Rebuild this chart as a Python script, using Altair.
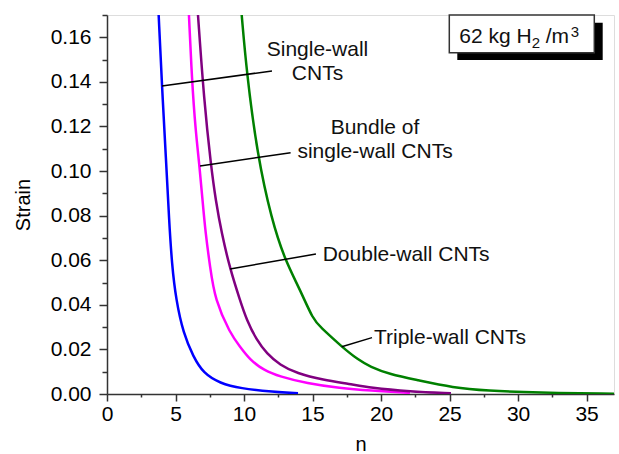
import altair as alt
import pandas as pd

# ---- data ----
sw_n = [3.77, 4.01, 4.31, 4.53, 4.74, 5.04, 5.57, 6.30, 7.03, 8.25, 9.71, 12.14, 13.94]
sw_s = [0.170, 0.1382, 0.1050, 0.0780, 0.0579, 0.0422, 0.0272, 0.0167, 0.0093, 0.0048, 0.0025, 0.0010, 0.0003]

bu_n = [5.98, 6.20, 6.46, 6.75, 6.97, 7.19, 7.52, 7.88, 8.98, 9.71, 10.44, 11.41, 12.62, 14.57, 17.00, 19.19, 22.11]
bu_s = [0.170, 0.1408, 0.1184, 0.1023, 0.0870, 0.0722, 0.0571, 0.0422, 0.0272, 0.0212, 0.0153, 0.0108, 0.0078, 0.0048, 0.0026, 0.0015, 0.0005]

dw_n = [6.64, 7.08, 7.59, 7.93, 8.37, 8.98, 9.70, 10.19, 10.92, 11.65, 12.62, 13.84, 15.78, 17.73, 19.19, 22.11, 25.10]
dw_s = [0.170, 0.1319, 0.1023, 0.0870, 0.0720, 0.0561, 0.0422, 0.0332, 0.0242, 0.0182, 0.0130, 0.0093, 0.0063, 0.0045, 0.0028, 0.0011, 0.0003]

tw_n = [9.83, 10.19, 10.97, 12.02, 12.99, 14.08, 15.06, 15.55, 17.13, 18.34, 19.19, 20.65, 22.60, 25.27, 27.71, 31.36, 37.0]
tw_s = [0.170, 0.1444, 0.1072, 0.0780, 0.0601, 0.0469, 0.0332, 0.0302, 0.0212, 0.0153, 0.0123, 0.0088, 0.0063, 0.0028, 0.0015, 0.0006, 0.0001]

series_names = ["Single-wall", "Bundle", "Double-wall", "Triple-wall"]
series_colors = ["#0000ff", "#ff00ff", "#800080", "#008000"]

# annotation leader lines (start on curve -> end near label)
lead_n = [4.01, 6.79, 8.98, 17.13]
lead_s = [0.1382, 0.1023, 0.0561, 0.0212]
lead_n2 = [12.04, 13.40, 15.25, 19.34]
lead_s2 = [0.1449, 0.1082, 0.0628, 0.0253]

# annotation labels
center_labels = ["Single-wall\nCNTs", "Bundle of\nsingle-wall CNTs"]
center_n = [15.36, 19.56]
center_s = [0.1516, 0.1166]
left_labels = ["Double-wall CNTs", "Triple-wall CNTs"]
left_n = [15.74, 19.48]
left_s = [0.0597, 0.0224]

x_ticks = [0, 5, 10, 15, 20, 25, 30, 35]
x_minor = [2.5, 7.5, 12.5, 17.5, 22.5, 27.5, 32.5]
y_ticks = [0.0, 0.02, 0.04, 0.06, 0.08, 0.10, 0.12, 0.14, 0.16]
y_minor = [0.01, 0.03, 0.05, 0.07, 0.09, 0.11, 0.13, 0.15, 0.17]

# ---- build tables ----
rows = []
for name, ns, ss in zip(series_names, [sw_n, bu_n, dw_n, tw_n], [sw_s, bu_s, dw_s, tw_s]):
    for a, b in zip(ns, ss):
        rows.append({"n": a, "s": b, "series": name})
lines_df = pd.DataFrame(rows)
lead_df = pd.DataFrame({"n": lead_n, "s": lead_s, "n2": lead_n2, "s2": lead_s2})
cl_df = pd.DataFrame({"n": center_n, "s": center_s, "label": center_labels})
ll_df = pd.DataFrame({"n": left_n, "s": left_s, "label": left_labels})
one = pd.DataFrame({"k": [0]})

FONT = "Liberation Sans"
AX = "#333333"
xs = alt.Scale(domain=[0, 37], nice=False, zero=False)
ys = alt.Scale(domain=[0, 0.17], nice=False, zero=False)

x_axis = alt.Axis(values=x_ticks, title="n", orient="bottom", grid=False, tickSize=7, tickWidth=1.5,
                  domainWidth=1.5, domainColor=AX, tickColor=AX, labelPadding=2, labelFontSize=21,
                  labelColor="black", labelFont=FONT, labelFlush=False, labelOverlap=False,
                  titleFontSize=20, titleFont=FONT, titleFontWeight="normal", titleColor="black",
                  titlePadding=10)
y_axis = alt.Axis(values=y_ticks, format=".2f", title="Strain", orient="left", grid=False, tickSize=8,
                  tickWidth=1.5, domainWidth=1.5, domainColor=AX, tickColor=AX, labelPadding=8,
                  labelFontSize=21, labelColor="black", labelFont=FONT, labelOverlap=False,
                  titleFontSize=20, titleFont=FONT, titleFontWeight="normal", titleColor="black",
                  titlePadding=17)
x_axis_minor = alt.Axis(values=x_minor, orient="bottom", grid=False, labels=False, domain=False,
                        tickSize=3, tickWidth=1.5, tickColor=AX, title=None)
y_axis_minor = alt.Axis(values=y_minor, orient="left", grid=False, labels=False, domain=False,
                        tickSize=5, tickWidth=1.5, tickColor=AX, title=None)

lines = alt.Chart(lines_df).mark_line(strokeWidth=2.5, interpolate="basis", clip=True).encode(
    x=alt.X("n:Q", scale=xs, axis=x_axis),
    y=alt.Y("s:Q", scale=ys, axis=y_axis),
    color=alt.Color("series:N", scale=alt.Scale(domain=series_names, range=series_colors), legend=None),
)

minor = alt.Chart(lines_df).mark_point(opacity=0).encode(
    x=alt.X("n:Q", scale=xs, axis=x_axis_minor),
    y=alt.Y("s:Q", scale=ys, axis=y_axis_minor),
)

leaders = alt.Chart(lead_df).mark_rule(color="black", strokeWidth=1.5).encode(
    x=alt.X("n:Q", scale=xs, axis=None), y=alt.Y("s:Q", scale=ys, axis=None),
    x2="n2:Q", y2="s2:Q",
)

ctext = alt.Chart(cl_df).mark_text(align="center", baseline="alphabetic", fontSize=21, font=FONT,
                                    lineBreak="\n", lineHeight=23.5, color="#111111").encode(
    x=alt.X("n:Q", scale=xs, axis=None), y=alt.Y("s:Q", scale=ys, axis=None), text="label:N")

ltext = alt.Chart(ll_df).mark_text(align="left", baseline="alphabetic", fontSize=21, font=FONT,
                                    color="#111111").encode(
    x=alt.X("n:Q", scale=xs, axis=None), y=alt.Y("s:Q", scale=ys, axis=None), text="label:N")

# box with drop shadow (decoration, pixel placed)
shadow = alt.Chart(one).mark_rect(color="black").encode(
    x=alt.value(350.3), x2=alt.value(495.7), y=alt.value(7.7), y2=alt.value(45))
box = alt.Chart(one).mark_rect(fill="white", stroke="#333333", strokeWidth=1.5).encode(
    x=alt.value(342.3), x2=alt.value(487.3), y=alt.value(0), y2=alt.value(37.7))
t1 = alt.Chart(one).mark_text(text="62 kg H", align="left", baseline="alphabetic", fontSize=21,
                              font=FONT, color="#111111").encode(x=alt.value(352.3), y=alt.value(28.3))
t2 = alt.Chart(one).mark_text(text="2", align="left", baseline="alphabetic", fontSize=15,
                              font=FONT, color="#111111").encode(x=alt.value(424.7), y=alt.value(32.7))
t3 = alt.Chart(one).mark_text(text="/m", align="left", baseline="alphabetic", fontSize=21,
                              font=FONT, color="#111111").encode(x=alt.value(438.7), y=alt.value(28.3))
t4 = alt.Chart(one).mark_text(text="3", align="left", baseline="alphabetic", fontSize=15,
                              font=FONT, color="#111111").encode(x=alt.value(463.7), y=alt.value(21.7))

chart = alt.layer(lines, minor, leaders, ctext, ltext, shadow, box, t1, t2, t3, t4).resolve_axis(
    x="independent", y="independent"
).properties(
    width=507, height=379, autosize="none",
    padding={"left": 107, "top": 15, "right": 5, "bottom": 60},
    background="white",
).configure_view(stroke="transparent").configure(font=FONT)

chart.save("out.html", embed_options={"renderer": "svg", "actions": False})
